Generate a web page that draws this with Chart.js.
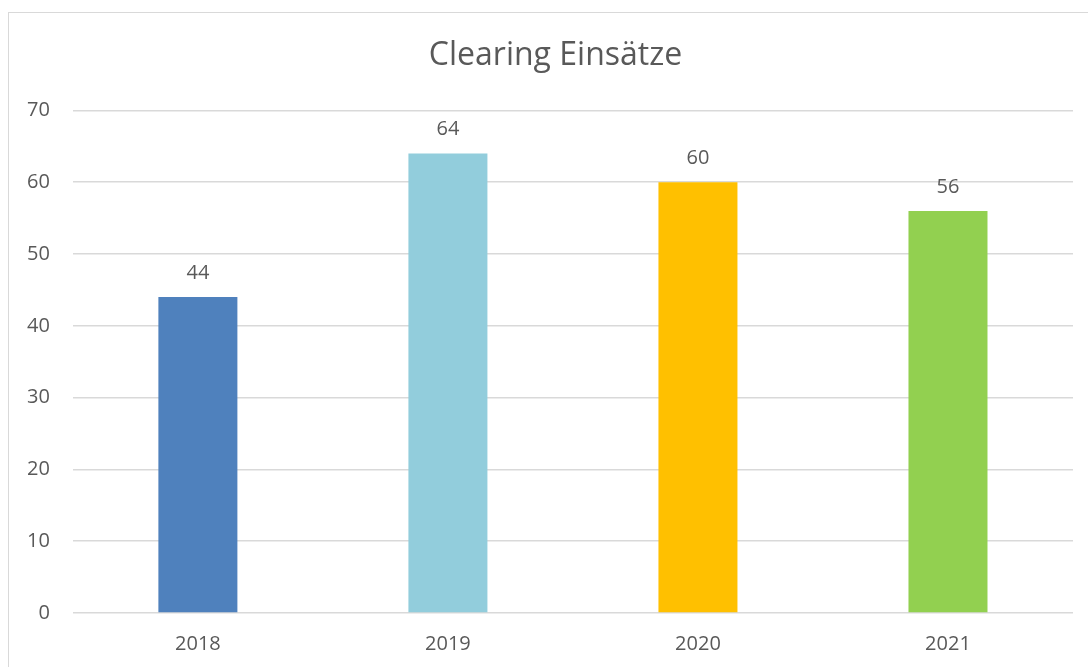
<!DOCTYPE html>
<html>
<head>
<meta charset="utf-8">
<script src="https://cdn.jsdelivr.net/npm/chart.js@4/dist/chart.umd.min.js"></script>
<style>
  html, body { margin: 0; padding: 0; background: #fff; overflow: hidden; }
  #frame {
    position: absolute; left: 8px; top: 12px; width: 1200px; height: 800px;
    border: 1.5px solid #d9d9d9; box-sizing: border-box;
  }
  #wrap { position: absolute; left: 0; top: 0; width: 1088px; height: 667px; }
</style>
</head>
<body>
<div id="frame"></div>
<div id="wrap"><canvas id="chart"></canvas></div>
<script>
// Chart data
const years = ['2018', '2019', '2020', '2021'];
const einsaetze = [44, 64, 60, 56];
const barColors = ['#4f81bd', '#92cddc', '#ffc000', '#92d050'];
const yTicks = [0, 10, 20, 30, 40, 50, 60, 70];

const textColor = '#595959';
const fontFamily = "'Open Sans', 'Noto Sans', sans-serif";

// draws the value above each bar, nudges the title a bit right like in the original
const valueLabels = {
  id: 'valueLabels',
  beforeDraw(chart) {
    const t = chart.titleBlock;
    if (t && !t._shifted) {
      t.left += 34;
      t._shifted = true;
    }
  },
  afterDatasetsDraw(chart) {
    const ctx = chart.ctx;
    const meta = chart.getDatasetMeta(0);
    ctx.save();
    ctx.font = `20px ${fontFamily}`;
    ctx.fillStyle = textColor;
    ctx.textAlign = 'center';
    ctx.textBaseline = 'middle';
    meta.data.forEach((bar, i) => {
      ctx.fillText(String(einsaetze[i]), bar.x, bar.y - 24);
    });
    ctx.restore();
  }
};

new Chart(document.getElementById('chart'), {
  type: 'bar',
  data: {
    labels: years,
    datasets: [{
      label: 'Clearing Einsätze',
      data: einsaetze,
      backgroundColor: barColors,
      borderWidth: 0,
      categoryPercentage: 1.0,
      barPercentage: 0.316
    }]
  },
  options: {
    responsive: true,
    maintainAspectRatio: false,
    animation: false,
    layout: { padding: { left: 4, right: 15, top: 0, bottom: 0 } },
    plugins: {
      legend: { display: false },
      tooltip: { enabled: false },
      title: {
        display: true,
        text: 'Clearing Einsätze',
        color: textColor,
        font: { family: fontFamily, size: 32, weight: 'normal' },
        padding: { top: 37, bottom: 35 }
      }
    },
    scales: {
      x: {
        grid: { display: false },
        border: { display: false },
        ticks: {
          color: textColor,
          font: { family: fontFamily, size: 20 },
          padding: 11
        }
      },
      y: {
        min: 0,
        max: 70,
        afterBuildTicks(axis) {
          axis.ticks = yTicks.map(v => ({ value: v }));
        },
        grid: { color: '#d9d9d9', lineWidth: 1.5, drawTicks: false },
        border: { display: false },
        ticks: {
          color: textColor,
          font: { family: fontFamily, size: 20 },
          padding: 23
        }
      }
    }
  },
  plugins: [valueLabels]
});
</script>
</body>
</html>
